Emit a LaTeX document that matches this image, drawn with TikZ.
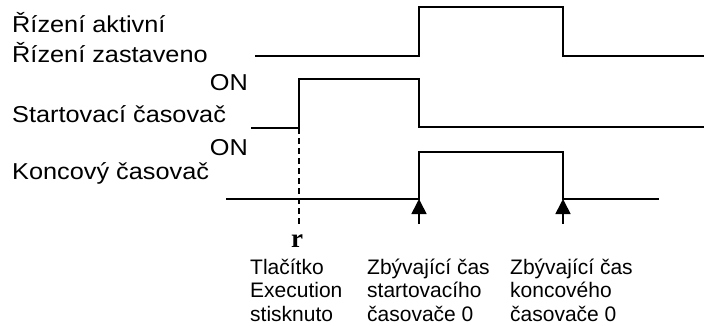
\documentclass[tikz,border=0pt]{standalone}
\usepackage{fontspec}
\setmainfont{Liberation Sans}
\newfontfamily\serifbold{Liberation Serif}
\usetikzlibrary{arrows.meta}
\newcommand{\wideL}[1]{\scalebox{1.1}[1]{#1}}
\begin{document}
\begin{tikzpicture}[x=1pt,y=-1pt,
  sig/.style={line width=1.8pt, line join=miter},
  lbl/.style={anchor=base west, inner sep=0pt, font=\fontsize{23}{26}\selectfont},
  onlbl/.style={anchor=base east, inner sep=0pt, font=\fontsize{23}{26}\selectfont},
  bot/.style={anchor=base west, inner sep=0pt, align=left, font=\fontsize{21}{23.5}\selectfont},
  evt/.style={line width=1.6pt, -{Triangle[length=15pt,width=15pt]}},
  marker/.style={line width=1.6pt, dash pattern=on 6pt off 4pt}]
\useasboundingbox (0,0) rectangle (704,326);
% left labels
\node[lbl] (l1) at (12,33) {\wideL{Řízení aktivní}};
\node[lbl] (l2) at (12,63) {\wideL{Řízení zastaveno}};
\node[onlbl] (on1) at (248,91) {\wideL{ON}};
\node[lbl] (l3) at (12,123) {\wideL{Startovací časovač}};
\node[onlbl] (on2) at (248,155) {\wideL{ON}};
\node[lbl] (l4) at (12,179) {\wideL{Koncový časovač}};
% signals
\draw[sig] (255,56) -- (419,56) -- (419,7) -- (563,7) -- (563,56) -- (704,56);
\draw[sig] (251,128) -- (299,128) -- (299,79) -- (419,79) -- (419,127) -- (704,127);
\draw[sig] (226,199) -- (419,199) -- (419,152) -- (563,152) -- (563,199) -- (659,199);
% marker
\coordinate (m1) at (299,128);
\coordinate (m2) at (299,224);
\draw[marker] (m1) -- (m2);
% event arrows
\coordinate (a1s) at (419,224);
\coordinate (a1e) at (419,199);
\coordinate (a2s) at (563,224);
\coordinate (a2e) at (563,199);
\draw[evt] (a1s) -- (a1e);
\draw[evt] (a2s) -- (a2e);
% bottom labels
\node[anchor=base, inner sep=0pt, font=\serifbold\bfseries\fontsize{27}{28}\selectfont] (r) at (297,247) {r};
\node[bot] (b1) at (250,321) {Tlačítko\\Execution\\stisknuto};
\node[bot] (b2) at (367,321) {Zbývající čas\\startovacího\\časovače 0};
\node[bot] (b3) at (510,321) {Zbývající čas\\koncového\\časovače 0};
\end{tikzpicture}
\end{document}
